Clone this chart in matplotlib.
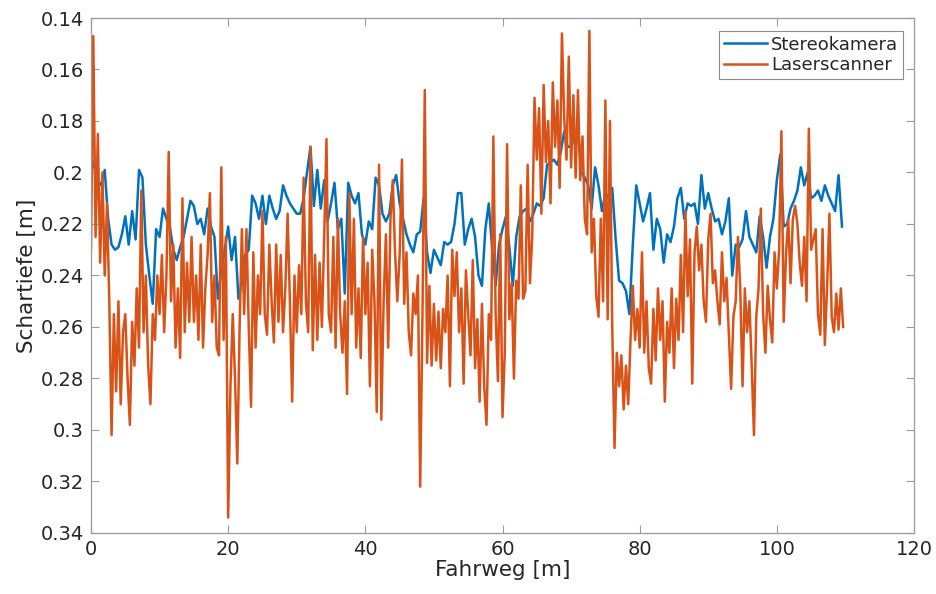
import numpy as np
import matplotlib
matplotlib.use("Agg")
import matplotlib.pyplot as plt
from matplotlib.ticker import FuncFormatter

# Schartiefe in mm, Laserscanner alle 1/3 m, Stereokamera alle 0.5 m
laser_mm = [
    230, 147, 225, 185, 235, 200, 240, 212, 250, 302, 255, 285, 250, 290, 262,
    255, 280, 298, 258, 275, 245, 268, 207, 262, 240, 275, 290, 255, 265, 240,
    255, 232, 262, 240, 192, 250, 228, 268, 245, 272, 210, 262, 235, 258, 225,
    258, 240, 265, 228, 268, 245, 232, 208, 258, 240, 268, 271, 198, 265, 225,
    334, 283, 255, 280, 313, 260, 222, 255, 222, 260, 291, 231, 268, 240, 255,
    215, 255, 263, 228, 250, 266, 228, 258, 232, 262, 245, 216, 250, 289, 240,
    262, 236, 255, 202, 250, 262, 190, 269, 232, 265, 235, 260, 225, 187, 255,
    262, 225, 268, 218, 255, 270, 250, 286, 208, 255, 218, 268, 245, 272, 225,
    255, 235, 283, 230, 250, 293, 197, 296, 250, 224, 268, 218, 203, 231, 250,
    232, 195, 251, 231, 262, 271, 247, 255, 240, 322, 255, 168, 274, 244, 275,
    251, 273, 254, 276, 253, 262, 240, 283, 230, 248, 231, 262, 245, 282, 238,
    255, 271, 234, 276, 257, 289, 251, 283, 298, 255, 265, 186, 255, 281, 224,
    295, 270, 189, 257, 243, 280, 242, 249, 205, 249, 246, 197, 243, 225, 171,
    195, 175, 216, 166, 196, 180, 212, 165, 190, 172, 206, 146, 179, 195, 155,
    198, 170, 202, 168, 203, 186, 218, 224, 145, 231, 218, 248, 256, 218, 250,
    172, 257, 180, 260, 307, 270, 283, 271, 292, 275, 290, 265, 244, 265, 253,
    268, 231, 270, 250, 276, 282, 253, 273, 245, 265, 250, 289, 258, 270, 245,
    276, 249, 265, 232, 262, 215, 248, 226, 282, 231, 221, 238, 228, 250, 258,
    226, 216, 243, 238, 250, 259, 231, 250, 241, 262, 284, 256, 250, 225, 245,
    283, 245, 262, 250, 275, 302, 256, 245, 214, 255, 270, 244, 257, 266, 231,
    245, 230, 184, 258, 232, 218, 243, 218, 213, 220, 235, 244, 225, 250, 183,
    230, 226, 222, 255, 263, 222, 267, 244, 216, 256, 262, 247, 261, 245, 260,
]

stereo_mm = [
    194, 198, 203, 205, 199, 218, 228, 230, 229, 224,
    217, 228, 215, 226, 199, 202, 228, 240, 251, 222,
    225, 214, 218, 221, 230, 234, 229, 225, 218, 211,
    213, 220, 218, 224, 214, 221, 225, 249, 238, 230,
    221, 234, 225, 249, 243, 232, 230, 209, 212, 218,
    209, 220, 209, 214, 218, 215, 205, 209, 212, 214,
    216, 216, 210, 200, 190, 213, 199, 214, 203, 219,
    212, 204, 222, 218, 247, 204, 209, 212, 208, 224,
    228, 219, 222, 202, 205, 216, 219, 216, 205, 201,
    212, 218, 224, 228, 231, 224, 223, 210, 231, 239,
    230, 233, 236, 227, 228, 227, 220, 208, 208, 228,
    222, 218, 225, 240, 244, 222, 212, 230, 244, 228,
    222, 217, 229, 244, 225, 217, 215, 214, 219, 216,
    212, 213, 210, 197, 196, 195, 197, 192, 184, 190,
    190, 186, 184, 200, 202, 205, 214, 198, 205, 215,
    208, 210, 206, 226, 242, 243, 246, 255, 228, 205,
    212, 219, 214, 208, 230, 218, 222, 235, 224, 227,
    221, 210, 206, 218, 212, 213, 212, 220, 201, 214,
    208, 214, 219, 218, 224, 219, 210, 240, 228, 229,
    226, 215, 225, 228, 231, 217, 225, 237, 225, 218,
    203, 193, 221, 220, 214, 211, 207, 198, 205, 200,
    210, 209, 207, 211, 205, 209, 212, 215, 201, 221,
]

laser = np.array(laser_mm) / 1000.0
stereo = np.array(stereo_mm) / 1000.0
x_laser = np.arange(len(laser)) / 3.0
x_stereo = np.arange(len(stereo)) * 0.5

fig = plt.figure(figsize=(9.36, 5.94), dpi=100)
ax = fig.add_axes([91 / 936, 1 - 533 / 594, 823 / 936, 515 / 594])

ax.plot(x_stereo, stereo, color="#0072BD", lw=1.8, label="Stereokamera")
ax.plot(x_laser, laser, color="#D95319", lw=1.8, label="Laserscanner")

ax.set_xlim(0, 120)
ax.set_ylim(0.34, 0.14)
ax.set_xticks(np.arange(0, 121, 20))
ax.set_yticks(np.arange(0.14, 0.3401, 0.02))
ax.yaxis.set_major_formatter(FuncFormatter(lambda v, p: "%g" % round(v, 2)))

ax.tick_params(direction="in", length=6, width=0.8, color="#9a9a9a",
               labelcolor="#262626", labelsize=14, pad=5, top=True, right=True)
for s in ax.spines.values():
    s.set_color("#9a9a9a")
    s.set_linewidth(0.9)

ax.set_xlabel("Fahrweg [m]", fontsize=15.5, color="#262626", labelpad=1)
ax.set_ylabel("Schartiefe [m]", fontsize=15.5, color="#262626", labelpad=3)

leg = ax.legend(loc="upper right", fontsize=13, fancybox=False, framealpha=1,
                edgecolor="#8c8c8c", handlelength=2.4, handletextpad=0.25,
                borderpad=0.25, labelspacing=0.15,
                bbox_to_anchor=(903 / 936, 1 - 31 / 594),
                bbox_transform=fig.transFigure, borderaxespad=0)
leg.get_frame().set_linewidth(0.8)
for t in leg.get_texts():
    t.set_color("#262626")

fig.savefig("out.png", dpi=100, facecolor="white")
